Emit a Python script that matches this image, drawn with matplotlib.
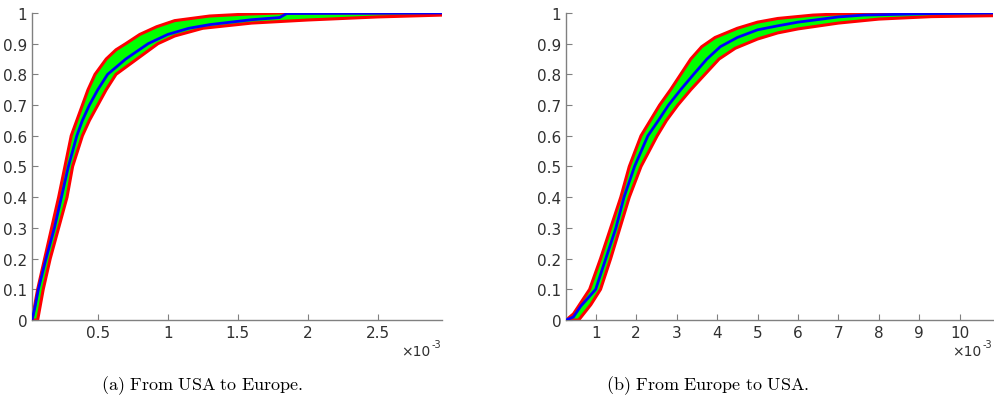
import matplotlib
matplotlib.use('Agg')
import matplotlib.pyplot as plt
import numpy as np

# Données (x en unités de 1e-3)
# (a) De USA vers l'Europe
usa_eu_upper_x = [0.03, 0.05, 0.07, 0.12, 0.17, 0.22, 0.265, 0.31, 0.35, 0.39, 0.43, 0.48, 0.56, 0.63, 0.70, 0.80, 0.92, 1.05, 1.3, 1.55, 1.8, 2.96]
usa_eu_upper_y = [0.0, 0.05, 0.1, 0.2, 0.3, 0.4, 0.5, 0.6, 0.65, 0.7, 0.75, 0.8, 0.85, 0.88, 0.9, 0.93, 0.955, 0.975, 0.99, 0.996, 1.0, 1.0]
usa_eu_mid_x = [0.03, 0.05, 0.075, 0.13, 0.19, 0.24, 0.29, 0.35, 0.39, 0.44, 0.5, 0.57, 0.70, 0.86, 1.0, 1.15, 1.3, 1.6, 1.8, 1.85, 2.96]
usa_eu_mid_y = [0.0, 0.04, 0.1, 0.2, 0.3, 0.4, 0.5, 0.6, 0.65, 0.7, 0.75, 0.8, 0.85, 0.9, 0.93, 0.95, 0.962, 0.978, 0.985, 0.998, 1.0]
usa_eu_lower_x = [0.03, 0.07, 0.11, 0.16, 0.22, 0.28, 0.32, 0.39, 0.44, 0.50, 0.56, 0.63, 0.78, 0.93, 1.05, 1.25, 1.6, 2.0, 2.5, 2.96]
usa_eu_lower_y = [0.0, 0.0, 0.1, 0.2, 0.3, 0.4, 0.5, 0.6, 0.65, 0.7, 0.75, 0.8, 0.85, 0.9, 0.925, 0.95, 0.967, 0.977, 0.987, 0.993]

# (b) De l'Europe vers USA
eu_usa_upper_x = [0.27, 0.45, 0.6, 0.85, 1.12, 1.37, 1.62, 1.83, 2.12, 2.35, 2.58, 2.85, 3.10, 3.35, 3.62, 3.95, 4.5, 5.0, 5.5, 6.37, 7.6, 10.82]
eu_usa_upper_y = [0.0, 0.02, 0.05, 0.1, 0.2, 0.3, 0.4, 0.5, 0.6, 0.65, 0.7, 0.75, 0.8, 0.85, 0.89, 0.92, 0.95, 0.97, 0.982, 0.993, 1.0, 1.0]
eu_usa_mid_x = [0.27, 0.45, 0.63, 0.8, 1.0, 1.25, 1.5, 1.7, 1.96, 2.29, 2.55, 2.8, 3.1, 3.42, 3.75, 4.08, 4.5, 5.0, 5.5, 6.0, 7.0, 7.62, 9.3, 10.82]
eu_usa_mid_y = [0.0, 0.01, 0.045, 0.07, 0.1, 0.2, 0.3, 0.4, 0.5, 0.6, 0.65, 0.7, 0.75, 0.8, 0.85, 0.89, 0.92, 0.945, 0.958, 0.97, 0.987, 0.993, 0.998, 1.0]
eu_usa_lower_x = [0.27, 0.58, 0.88, 1.12, 1.37, 1.6, 1.83, 2.12, 2.52, 2.75, 3.03, 3.35, 3.7, 4.05, 4.45, 5.0, 5.5, 6.0, 7.0, 8.0, 9.3, 10.82]
eu_usa_lower_y = [0.0, 0.0, 0.05, 0.1, 0.2, 0.3, 0.4, 0.5, 0.6, 0.65, 0.7, 0.75, 0.8, 0.85, 0.885, 0.915, 0.935, 0.948, 0.967, 0.98, 0.988, 0.991]

y_ticks = [0, 0.1, 0.2, 0.3, 0.4, 0.5, 0.6, 0.7, 0.8, 0.9, 1]
y_tick_labels = ['0', '0.1', '0.2', '0.3', '0.4', '0.5', '0.6', '0.7', '0.8', '0.9', '1']
usa_eu_x_ticks = [0.5, 1, 1.5, 2, 2.5]
usa_eu_x_labels = ['0.5', '1', '1.5', '2', '2.5']
eu_usa_x_ticks = [1, 2, 3, 4, 5, 6, 7, 8, 9, 10]
eu_usa_x_labels = ['1', '2', '3', '4', '5', '6', '7', '8', '9', '10']
captions = ['(a) From USA to Europe.', '(b) From Europe to USA.']

plt.rcParams['mathtext.fontset'] = 'cm'

GREY = '#303030'


def draw_panel(fig, ax, upper, mid, lower, xlim, xticks, xlabels):
    ux, uy = np.array(upper[0]), np.array(upper[1])
    mx, my = np.array(mid[0]), np.array(mid[1])
    lx, ly = np.array(lower[0]), np.array(lower[1])
    # remplissage vert entre les deux bornes
    poly_x = np.concatenate([ux, lx[::-1]])
    poly_y = np.concatenate([uy, ly[::-1]])
    ax.fill(poly_x, poly_y, color='#00ff00', lw=0, zorder=1)
    ax.plot(ux, uy, color='red', lw=2.2, zorder=2)
    ax.plot(lx, ly, color='red', lw=2.2, zorder=2)
    ax.plot(mx, my, color='blue', lw=2.0, zorder=3)

    ax.set_xlim(xlim)
    ax.set_ylim(0, 1)
    ax.set_xticks(xticks)
    ax.set_xticklabels(xlabels)
    ax.set_yticks(y_ticks)
    ax.set_yticklabels(y_tick_labels)
    # facteur d'échelle façon MATLAB, aligné sur la fin de l'axe
    pos = ax.get_position()
    x_end = pos.x1
    fig.text(x_end - 0.012, pos.y0 - 0.075, '×10', ha='right', va='center',
             fontsize=10, color=GREY, family='DejaVu Sans')
    fig.text(x_end - 0.001, pos.y0 - 0.058, '-3', ha='right', va='center',
             fontsize=7, color=GREY, family='DejaVu Sans')
    for s in ['top', 'right']:
        ax.spines[s].set_visible(False)
    for s in ['left', 'bottom']:
        ax.spines[s].set_color('#808080')
        ax.spines[s].set_linewidth(1.0)
    ax.tick_params(direction='in', length=4, width=0.8, color='#808080',
                   labelcolor=GREY, labelsize=11)


def main():
    fig = plt.figure(figsize=(9.95, 4.10), dpi=100)
    ax1 = fig.add_axes([0.0322, 0.217, 0.412, 0.749])
    ax2 = fig.add_axes([0.569, 0.217, 0.429, 0.749])

    draw_panel(fig, ax1, (usa_eu_upper_x, usa_eu_upper_y), (usa_eu_mid_x, usa_eu_mid_y),
               (usa_eu_lower_x, usa_eu_lower_y), (0.03, 2.96), usa_eu_x_ticks, usa_eu_x_labels)
    draw_panel(fig, ax2, (eu_usa_upper_x, eu_usa_upper_y), (eu_usa_mid_x, eu_usa_mid_y),
               (eu_usa_lower_x, eu_usa_lower_y), (0.27, 10.82), eu_usa_x_ticks, eu_usa_x_labels)

    for xc, txt in zip([0.203, 0.711], captions):
        fig.text(xc, 0.06, r'$\mathrm{' + txt.replace(' ', r'\ ') + '}$',
                 ha='center', va='center', fontsize=13, color='black')

    fig.savefig('out.png', dpi=100)


if __name__ == '__main__':
    main()
